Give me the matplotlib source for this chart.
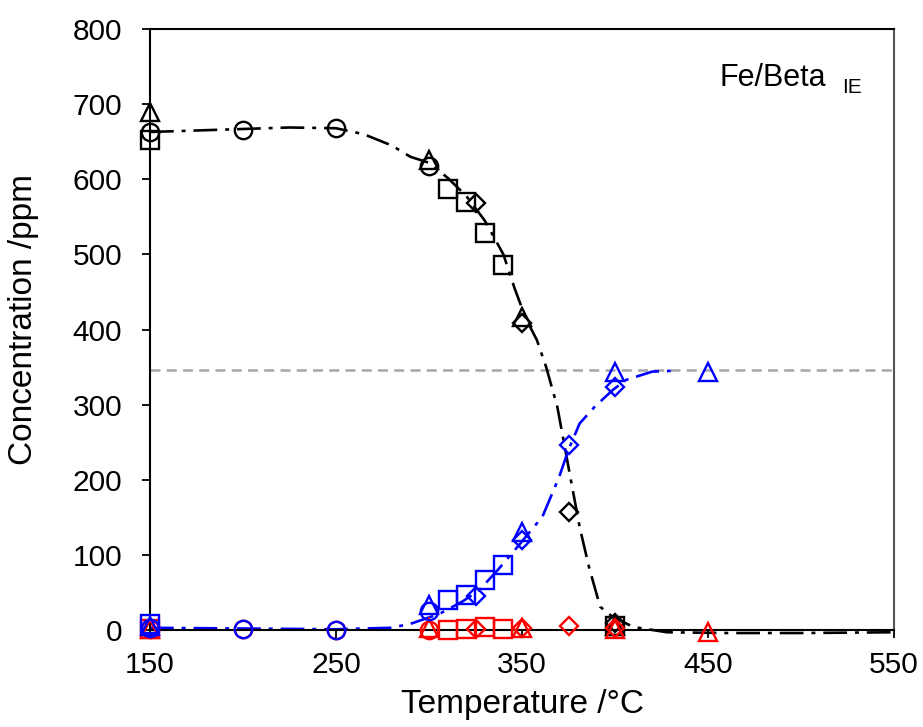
import matplotlib.pyplot as plt

plt.rcParams['font.family'] = ['Liberation Sans', 'DejaVu Sans']

# 测量点: 温度 (°C) 与浓度 (ppm), 每种符号一组实验
t_circle = [150, 200, 250, 300]
t_tri = [150, 300, 350, 400, 450]
t_square = [150, 310, 320, 330, 340, 400]
t_diamond = [325, 350, 375, 400]

black_circle = [663, 666, 668, 618]
black_tri = [690, 626, 417, 5]
black_square = [652, 587, 570, 528, 486, 6]
black_diamond = [569, 409, 157, 9]

blue_circle = [3, 2, 0, 25]
blue_tri = [5, 33, 131, 344, 344]
blue_square = [8, 40, 47, 67, 87, None]
blue_diamond = [45, 120, 246, 324]

red_circle = [1, 2, 0, 0]
red_tri = [1, 3, 3, 2, -2]
red_square = [2, 0, 2, 4, 2, None]
red_diamond = [1, 3, 5, 3]

# 拟合曲线(读取的点)
fit_black_t = [150, 175, 200, 225, 250, 265, 280, 290, 300, 310, 320, 330, 340, 346,
               352, 358, 363, 369, 377, 381, 386, 392, 399, 410, 428, 460, 500, 550]
fit_black_c = [663, 665, 667, 669, 668, 660, 645, 630, 622, 602, 578, 545, 500, 455,
               415, 386, 350, 297, 190, 137, 84, 31, 17, 4, -3, -4, -4, -3]
fit_blue_t = [150, 200, 250, 280, 291, 306, 318, 327, 337, 347, 361, 370, 375, 381,
              389, 399, 406, 420, 430]
fit_blue_c = [3, 2, 1, 3, 9, 22, 38, 53, 80, 109, 151, 204, 240, 275, 297, 320, 333,
              344, 345]
baseline = 346

fig = plt.figure(figsize=(9.23, 7.27), dpi=100)
ax = fig.add_axes([0.1625, 0.1334, 0.8061, 0.8266])

dashdot = (0, (9, 3, 1.5, 3))
ax.plot([150, 550], [baseline, baseline], color="#a6a6a6", linewidth=1.8,
        linestyle=(0, (4, 2.5)), clip_on=False, zorder=1)
ax.plot(fit_black_t, fit_black_c, color="black", linewidth=1.9, linestyle=dashdot,
        clip_on=False, zorder=2)
ax.plot(fit_blue_t, fit_blue_c, color="#0000ff", linewidth=1.9, linestyle=dashdot,
        clip_on=False, zorder=2)


# 画一组符号, None 的点跳过
def marks(ts, cs, marker, color, size):
    pts = [(t, c) for t, c in zip(ts, cs) if c is not None]
    ax.plot([p[0] for p in pts], [p[1] for p in pts], linestyle="none", marker=marker,
            markersize=size, markerfacecolor="none", markeredgecolor=color,
            markeredgewidth=1.7, clip_on=False, zorder=3)


for color, circ, tri, sq, dia in [("black", black_circle, black_tri, black_square, black_diamond),
                                  ("#ff0000", red_circle, red_tri, red_square, red_diamond),
                                  ("#0000ff", blue_circle, blue_tri, blue_square, blue_diamond)]:
    marks(t_circle, circ, "o", color, 12.5)
    marks(t_tri, tri, "^", color, 13)
    marks(t_square, sq, "s", color, 12.5)
    marks(t_diamond, dia, "D", color, 9)

ax.set_xlim(150, 550)
ax.set_ylim(0, 800)
ax.set_xticks([150, 250, 350, 450, 550])
ax.set_yticks(range(0, 801, 100))
ax.tick_params(axis="both", labelsize=21.5, width=1.3, length=6, direction="out")
ax.tick_params(axis="x", pad=9)
ax.tick_params(axis="y", pad=14)
for s in ax.spines.values():
    s.set_linewidth(1.5)
ax.spines["right"].set_color("#555555")

ax.set_xlabel("Temperature /°C", fontsize=24)
ax.set_ylabel("Concentration /ppm", fontsize=24)
ax.xaxis.set_label_coords(0.5, -0.098)
ax.yaxis.set_label_coords(-0.149, 0.516)

ax.text(0.765, 0.918, "Fe/Beta", transform=ax.transAxes, fontsize=22, ha="left", va="center")
ax.text(0.93, 0.902, "IE", transform=ax.transAxes, fontsize=15, ha="left", va="center")

fig.savefig("out.png", dpi=100)
